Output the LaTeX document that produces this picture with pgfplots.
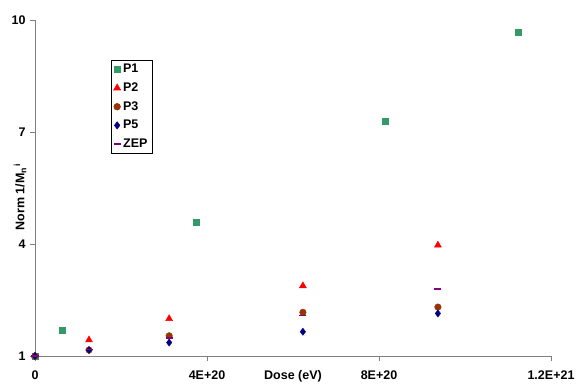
\documentclass[border=0pt]{standalone}
\usepackage{pgfplots}
\pgfplotsset{compat=1.18}
\usepackage{fontspec}
\setmainfont{Liberation Sans}
\definecolor{pone}{HTML}{339966}
\definecolor{pthree}{HTML}{993300}
\definecolor{pfive}{HTML}{000080}
\definecolor{zep}{HTML}{800080}
\definecolor{axgrey}{HTML}{808080}
\begin{document}
\begin{tikzpicture}
\path[use as bounding box] (-35bp,-28bp) rectangle (541bp,356bp);
\begin{axis}[
  scale only axis,
  width=516bp, height=336bp,
  xmin=0, xmax=1.2e21, ymin=1, ymax=10,
  axis x line=bottom, axis y line=left,
  axis line style={axgrey, line width=0.8pt, -},
  tick style={axgrey, line width=0.8pt},
  tick align=outside,
  major tick length=5bp,
  xtick={0,4e20,8e20,1.2e21},
  xticklabels={0,4E+20,8E+20,1.2E+21},
  ytick={1,4,7,10},
  yticklabels={1,4,7,10},
  ticklabel style={font=\fontsize{12.5bp}{14bp}\selectfont\bfseries},
  xticklabel style={yshift=-6bp},
  yticklabel style={xshift=-1bp},
  xlabel={Dose (eV)},
  xlabel style={at={(axis description cs:0.5,0)}, anchor=north, yshift=-11bp, font=\fontsize{12.5bp}{14bp}\selectfont\bfseries},
  ylabel={Norm 1/M\textsubscript{n}\rlap{\textsuperscript{\,i}}},
  ylabel style={at={(axis description cs:-0.029,0.467)}, anchor=center, font=\fontsize{12.5bp}{14bp}\selectfont\bfseries},
  clip=false,
  legend style={at={(rel axis cs:0.147,0.881)}, anchor=north west, draw=black, line width=0.6pt,
    font=\fontsize{12.5bp}{14bp}\selectfont\bfseries, row sep=5.5bp, inner sep=2.5bp,
    nodes={inner ysep=1.5bp, inner xsep=2.5bp}},
  legend cell align=left,
]
\addplot[only marks, mark=square*, mark size=3bp, color=pone] coordinates {
 (0,1) (6.3e19,1.70) (3.74e20,4.59) (8.14e20,7.30) (1.123e21,9.68)};
\addlegendentry{P1}
\addplot[only marks, mark=triangle*, mark size=4bp, color=red] coordinates {
 (0,1) (1.256e20,1.43) (3.12e20,2.00) (6.23e20,2.88) (9.37e20,3.97)};
\addlegendentry{P2}
\addplot[only marks, mark=*, mark size=3.3bp, color=pthree] coordinates {
 (0,1) (1.256e20,1.16) (3.12e20,1.54) (6.23e20,2.17) (9.37e20,2.31)};
\addlegendentry{P3}
\addplot[only marks, mark=diamond*, mark size=3.6bp, color=pfive] coordinates {
 (0,1) (1.256e20,1.16) (3.12e20,1.36) (6.23e20,1.65) (9.37e20,2.14)};
\addlegendentry{P5}
\addplot[only marks, mark=-, mark size=3.5bp, color=zep, mark options={line width=1.6pt}] coordinates {
 (0,1) (1.256e20,1.17) (3.12e20,1.49) (6.23e20,2.09) (9.37e20,2.79)};
\addlegendentry{ZEP}
\end{axis}
\end{tikzpicture}
\end{document}
